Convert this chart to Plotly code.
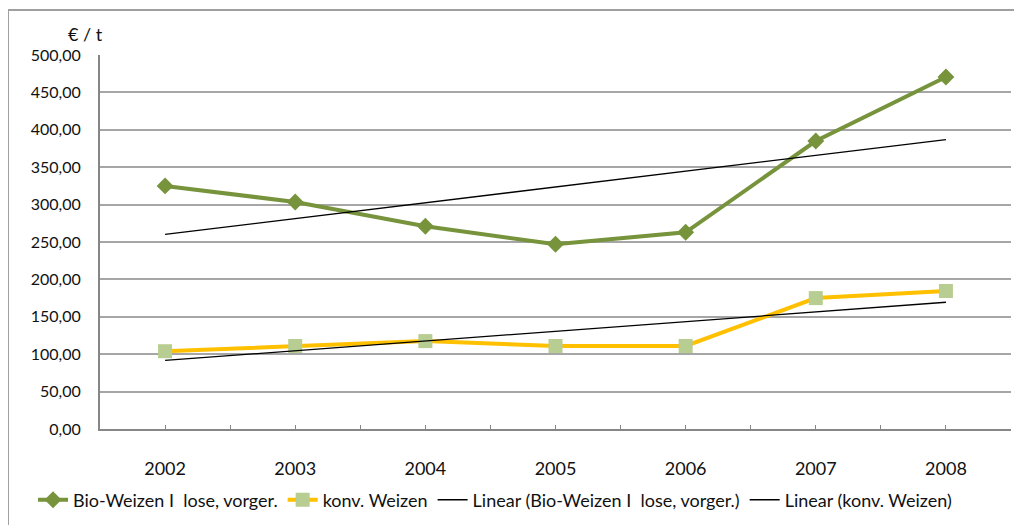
import numpy as np
import plotly.graph_objects as go

# Daten
years = [2002, 2003, 2004, 2005, 2006, 2007, 2008]
bio_weizen = [325, 303.5, 271, 247, 263, 385, 470.5]
konv_weizen = [104, 111, 117.5, 111, 111, 175, 184.5]
y_ticks = [0, 50, 100, 150, 200, 250, 300, 350, 400, 450, 500]

name_bio = "Bio-Weizen I\u00a0\u00a0lose, vorger."
name_konv = "konv. Weizen"

FONT = "Lato, 'Open Sans', sans-serif"


def trend(x, y):
    # lineare Trendlinie wie in Excel
    k, d = np.polyfit(x, y, 1)
    return [k * xi + d for xi in x]


fig = go.Figure()

fig.add_trace(go.Scatter(
    x=years, y=bio_weizen, name=name_bio, mode="lines+markers",
    line=dict(color="#77933C", width=4),
    marker=dict(symbol="diamond", size=13, color="#77933C")
))
fig.add_trace(go.Scatter(
    x=years, y=konv_weizen, name=name_konv, mode="lines+markers",
    line=dict(color="#FFC000", width=4),
    marker=dict(symbol="square", size=14, color="#B7CD91")
))
fig.add_trace(go.Scatter(
    x=years, y=trend(years, bio_weizen), name="Linear (" + name_bio + ")",
    mode="lines", line=dict(color="#000000", width=1.3)
))
fig.add_trace(go.Scatter(
    x=years, y=trend(years, konv_weizen), name="Linear (" + name_konv + ")",
    mode="lines", line=dict(color="#000000", width=1.3)
))

# die Seite hat 8px Rand (body margin), daher Ränder entsprechend verschoben
fig.update_layout(
    width=1022, height=525,
    margin=dict(l=92, r=19, t=47, b=104, autoexpand=False),
    paper_bgcolor="white", plot_bgcolor="white",
    separators=",.",
    font=dict(family=FONT, size=15, color="#111111"),
    showlegend=True,
    legend=dict(
        orientation="h", x=-0.0735, y=-0.19, xanchor="left", yanchor="middle",
        font=dict(size=18), itemwidth=30, tracegroupgap=0
    ),
    annotations=[dict(
        text="€ / t", xref="paper", yref="paper", x=-0.016, y=1.055,
        xanchor="center", yanchor="middle", showarrow=False,
        font=dict(size=18)
    )],
    shapes=[dict(
        type="rect", xref="paper", yref="paper",
        x0=-0.101, x1=1.05, y0=-0.5, y1=1.12,
        line=dict(color="#A0A0A0", width=2), layer="below"
    )]
)

fig.update_xaxes(
    range=[2001.5, 2008.5], tickvals=years, ticktext=[str(y) for y in years],
    showgrid=False, zeroline=False, automargin=False,
    showline=True, linecolor="#868686", linewidth=2,
    ticks="inside", ticklen=4, tickcolor="#868686",
    minor=dict(dtick=0.5, tick0=2001.5, ticks="inside", ticklen=4, tickcolor="#868686"),
    ticklabelstandoff=22, tickfont=dict(size=18)
)
fig.update_yaxes(
    range=[0, 500], tickvals=y_ticks, tickformat=".2f",
    showgrid=True, gridcolor="#A6A6A6", gridwidth=2, automargin=False,
    zeroline=False, showline=True, linecolor="#868686", linewidth=2,
    ticks="", ticklabelstandoff=14, tickfont=dict(size=16)
)

fig.write_html("out.html")
